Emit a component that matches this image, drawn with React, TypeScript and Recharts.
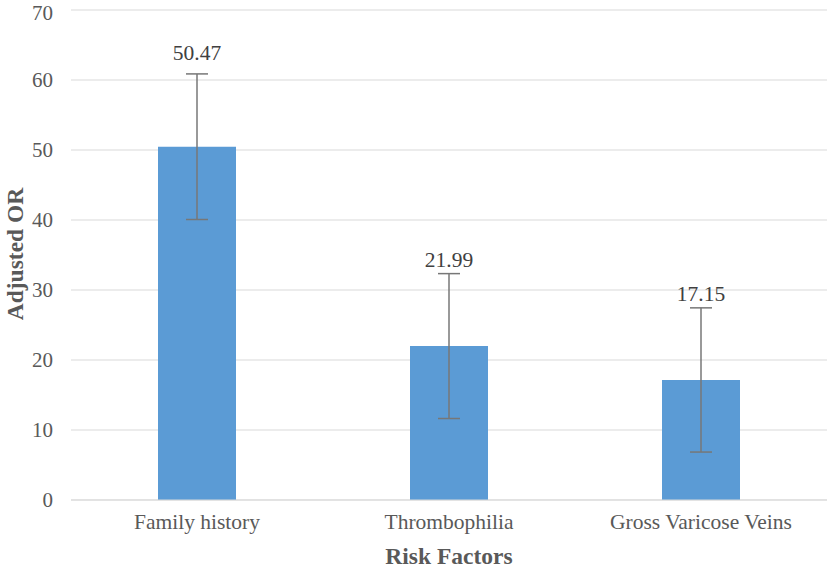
import { BarChart, Bar, XAxis, YAxis, CartesianGrid, ErrorBar, LabelList } from 'recharts';

const categories = ['Family history', 'Thrombophilia', 'Gross Varicose Veins'];
const adjustedOR = [50.47, 21.99, 17.15];
const errors = [10.4, 10.35, 10.3];
const yTicks = [0, 10, 20, 30, 40, 50, 60, 70];

const data = categories.map((name, i) => ({ name, value: adjustedOR[i], err: errors[i] }));

// how far above the bar top each value label sits (Excel placed them unevenly)
const labelLift = [94, 86, 86];

const FONT = "'Liberation Serif', 'Times New Roman', serif";
const GREY = '#595959';

const ValueLabel = (props: any) => {
  const { x, y, width, value, index } = props;
  return (
    <text x={x + width / 2} y={y - labelLift[index]} textAnchor="middle" dominantBaseline="central"
      style={{ fontFamily: FONT, fontSize: 21.5 }} fill="#404040">
      {value.toFixed(2)}
    </text>
  );
};

const YTitle = () => (
  <text x={15} y={254} transform="rotate(-90 15 254)" textAnchor="middle" dominantBaseline="central"
    style={{ fontFamily: FONT, fontSize: 23.5, fontWeight: 'bold' }} fill={GREY}>
    Adjusted OR
  </text>
);

export default function App() {
  return (
    <div style={{ position: 'absolute', left: 0, top: 0, background: '#fff', fontFamily: FONT }}>
      <BarChart width={827} height={570} data={data} margin={{ top: 10, right: 0, bottom: 0, left: 0 }}
        style={{ fontFamily: FONT }}>
        <CartesianGrid vertical={false} stroke="#d9d9d9" />
        <XAxis
          dataKey="name"
          height={70}
          axisLine={{ stroke: '#d9d9d9' }}
          tickLine={false}
          tickSize={0}
          tickMargin={14}
          tick={{ fontSize: 21.5, fill: GREY, style: { fontFamily: FONT } }}
          label={{ value: 'Risk Factors', position: 'insideBottom', offset: 6, fontSize: 23.5, fontWeight: 'bold', fill: GREY, style: { fontFamily: FONT } }}
        />
        <YAxis
          width={71}
          domain={[0, 70]}
          ticks={yTicks}
          axisLine={false}
          tickLine={false}
          tickSize={0}
          tickMargin={18}
          tick={{ fontSize: 21, fill: GREY, style: { fontFamily: FONT } }}
          label={<YTitle />}
        />
        <Bar dataKey="value" fill="#5b9bd5" barSize={78} isAnimationActive={false}>
          <ErrorBar dataKey="err" width={11} stroke="#777777" strokeWidth={1.5} direction="y" isAnimationActive={false} />
          <LabelList dataKey="value" content={<ValueLabel />} />
        </Bar>
      </BarChart>
    </div>
  );
}
